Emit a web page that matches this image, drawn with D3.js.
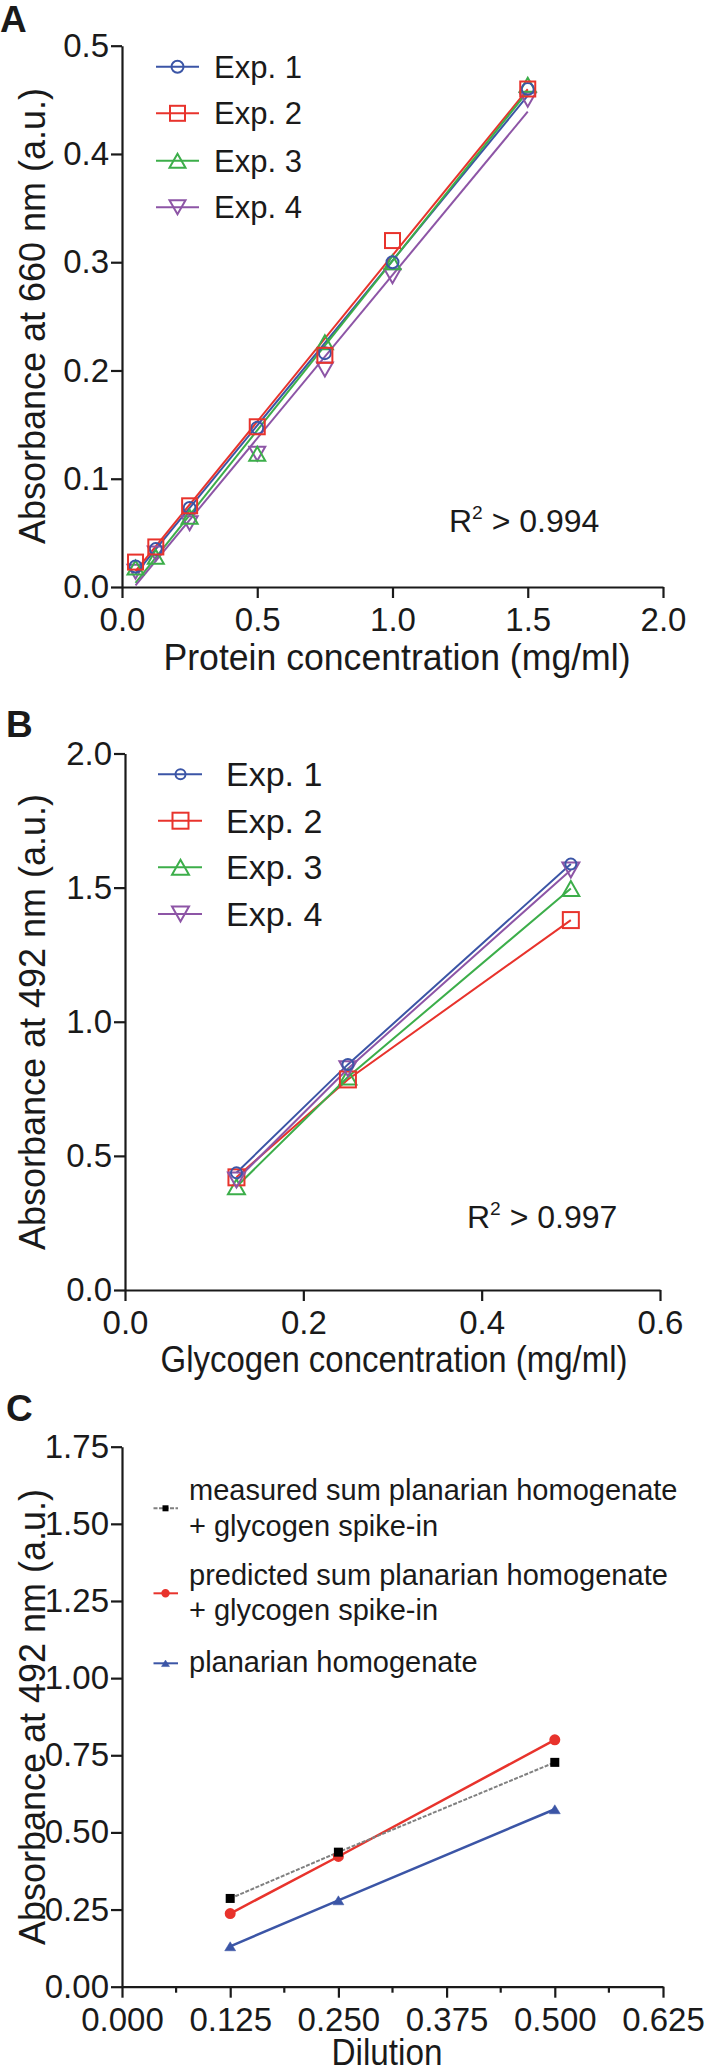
<!DOCTYPE html>
<html><head><meta charset="utf-8">
<script src="https://cdn.jsdelivr.net/npm/d3@7"></script>
<style>
body{margin:0;background:#fff}
svg text{font-family:"Liberation Sans",Arial,Helvetica,sans-serif;fill:#1a1a1a}
</style></head><body>
<svg id="c" width="708" height="2068"></svg>
<script>
// ---------- Panel A data ----------
const aConc = [0.05, 0.125, 0.25, 0.5, 0.75, 1.0, 1.5];
const aExp1 = [0.019, 0.035, 0.073, 0.147, 0.216, 0.300, 0.460];
const aExp2 = [0.023, 0.037, 0.075, 0.148, 0.214, 0.320, 0.460];
const aExp3 = [0.018, 0.028, 0.065, 0.123, 0.226, 0.300, 0.464];
const aExp4 = [0.014, 0.031, 0.059, 0.123, 0.201, 0.287, 0.450];
const aXTicks = [0, 0.5, 1.0, 1.5, 2.0];
const aYTicks = [0, 0.1, 0.2, 0.3, 0.4, 0.5];
// ---------- Panel B data ----------
const bConc = [0.125, 0.25, 0.5];
const bExp1 = [0.437, 0.841, 1.588];
const bExp2 = [0.420, 0.785, 1.379];
const bExp3 = [0.385, 0.794, 1.497];
const bExp4 = [0.410, 0.825, 1.566];
const bXTicks = [0, 0.2, 0.4, 0.6];
const bYTicks = [0, 0.5, 1.0, 1.5, 2.0];
// ---------- Panel C data ----------
const cDil = [0.125, 0.25, 0.5];
const cMeasured = [0.286, 0.436, 0.727];
const cPredicted = [0.237, 0.422, 0.800];
const cHomogenate = [0.131, 0.280, 0.575];
const cXTicks = [0, 0.125, 0.25, 0.375, 0.5, 0.625];
const cXMinor = [0.0625, 0.1875, 0.3125, 0.4375, 0.5625];
const cYTicks = [0, 0.25, 0.5, 0.75, 1.0, 1.25, 1.5, 1.75];

const expNames = ["Exp. 1", "Exp. 2", "Exp. 3", "Exp. 4"];
const expColors = ["#3b55a6", "#e8332c", "#3cae4a", "#8d55a6"];
const expShapes = ["circle", "square", "up", "down"];
const cNames = [["measured sum planarian homogenate", "+ glycogen spike-in"],
                ["predicted sum planarian homogenate", "+ glycogen spike-in"],
                ["planarian homogenate"]];
const cColors = ["#000000", "#e8332c", "#3b55a6"];

const svg = d3.select("#c");
const INK = "#1a1a1a";

function axes(x, y, xT, yT, fx, fy, fs) {
  const gx = svg.append("g").attr("transform", `translate(0,${y.range()[0]})`)
    .call(d3.axisBottom(x).tickValues(xT).tickFormat(fx).tickSize(11).tickSizeOuter(0).tickPadding(10));
  const gy = svg.append("g").attr("transform", `translate(${x.range()[0]},0)`)
    .call(d3.axisLeft(y).tickValues(yT).tickFormat(fy).tickSize(11).tickSizeOuter(0).tickPadding(2));
  [gx, gy].forEach(g => {
    g.attr("font-size", fs);
    g.selectAll("path,line").attr("stroke", INK).attr("stroke-width", 2.2);
    g.selectAll("text").attr("fill", INK);
  });
  return gx;
}

function marker(g, shape, cx, cy, s, color, filled) {
  const fill = filled ? color : "none";
  if (shape === "circle") {
    g.append("circle").attr("cx", cx).attr("cy", cy).attr("r", s.r)
      .attr("fill", fill).attr("stroke", color).attr("stroke-width", 2);
  } else if (shape === "square") {
    g.append("rect").attr("x", cx - s.q / 2).attr("y", cy - s.q / 2).attr("width", s.q).attr("height", s.q)
      .attr("fill", fill).attr("stroke", color).attr("stroke-width", filled ? 0 : 2);
  } else {
    const w = s.w, h = s.h, d = shape === "up" ? 1 : -1;
    const p = d3.path();
    p.moveTo(cx - w / 2, cy + d * h / 2); p.lineTo(cx + w / 2, cy + d * h / 2); p.lineTo(cx, cy - d * h / 2); p.closePath();
    g.append("path").attr("d", p.toString()).attr("fill", fill).attr("stroke", color)
      .attr("stroke-width", filled ? 0.5 : 2).attr("stroke-linejoin", "miter");
  }
}

function linfit(xs, ys) {
  const n = xs.length, mx = d3.mean(xs), my = d3.mean(ys);
  let sxy = 0, sxx = 0;
  for (let i = 0; i < n; i++) { sxy += (xs[i] - mx) * (ys[i] - my); sxx += (xs[i] - mx) ** 2; }
  const b = sxy / sxx; return { b, a: my - b * mx };
}

function rsq(x, y, txt, fs) {
  const t = svg.append("text").attr("x", x).attr("y", y).attr("font-size", fs);
  t.append("tspan").text("R");
  t.append("tspan").attr("font-size", fs * 0.6).attr("dy", -fs * 0.42).text("2");
  t.append("tspan").attr("dy", fs * 0.42).text(txt);
}

function ytitle(cx, cy, txt) {
  svg.append("text").attr("transform", `translate(${cx},${cy}) rotate(-90)`)
    .attr("text-anchor", "middle").attr("font-size", 36).attr("textLength", 456)
    .attr("lengthAdjust", "spacingAndGlyphs").text(txt);
}
function xtitle(cx, y, txt, len) {
  svg.append("text").attr("x", cx).attr("y", y).attr("text-anchor", "middle")
    .attr("font-size", 36).attr("textLength", len).attr("lengthAdjust", "spacingAndGlyphs").text(txt);
}
function panelLabel(x, y, t) {
  svg.append("text").attr("x", x).attr("y", y).attr("font-size", 37).attr("font-weight", "bold").text(t);
}

// ================= Panel A =================
const xA = d3.scaleLinear([0, 2], [122, 663]);
const yA = d3.scaleLinear([0, 0.5], [587, 45.7]);
axes(xA, yA, aXTicks, aYTicks, d3.format(".1f"), d3.format(".1f"), 33);
const aSeries = [aExp1, aExp2, aExp3, aExp4];
const sA = { r: 6, q: 15, w: 16, h: 14 };
const gA = svg.append("g");
aSeries.forEach((ys, k) => {
  const f = linfit(aConc, ys);
  const x0 = d3.min(aConc), x1 = d3.max(aConc);
  gA.append("line").attr("x1", xA(x0)).attr("y1", yA(f.a + f.b * x0))
    .attr("x2", xA(x1)).attr("y2", yA(f.a + f.b * x1))
    .attr("stroke", expColors[k]).attr("stroke-width", 2);
});
[3, 2, 0, 1].forEach(k => {
  aSeries[k].forEach((v, i) => marker(gA, expShapes[k], xA(aConc[i]), yA(v), sA, expColors[k], false));
});
// legend A
const legA = svg.append("g");
[66.7, 113.3, 160.7, 207.3].forEach((cy, k) => {
  legA.append("line").attr("x1", 156).attr("x2", 199).attr("y1", cy).attr("y2", cy)
    .attr("stroke", expColors[k]).attr("stroke-width", 2);
  marker(legA, expShapes[k], 177.5, cy, sA, expColors[k], false);
  legA.append("text").attr("x", 214).attr("y", cy + 11).attr("font-size", 31).text(expNames[k]);
});
rsq(449, 532, " > 0.994", 32);
xtitle(397, 670, "Protein concentration (mg/ml)", 467);
ytitle(45, 316, "Absorbance at 660 nm (a.u.)");
panelLabel(0, 32, "A");

// ================= Panel B =================
const xB = d3.scaleLinear([0, 0.6], [125, 660]);
const yB = d3.scaleLinear([0, 2], [1290, 753.5]);
axes(xB, yB, bXTicks, bYTicks, d3.format(".1f"), d3.format(".1f"), 33);
const bSeries = [bExp1, bExp2, bExp3, bExp4];
const sB = { r: 5.5, q: 16, w: 17, h: 15 };
const gB = svg.append("g");
const lineB = d3.line().x((d, i) => xB(bConc[i])).y(d => yB(d));
bSeries.forEach((ys, k) => {
  gB.append("path").attr("d", lineB(ys)).attr("fill", "none").attr("stroke", expColors[k]).attr("stroke-width", 2);
});
[2, 1, 3, 0].forEach(k => {
  bSeries[k].forEach((v, i) => marker(gB, expShapes[k], xB(bConc[i]), yB(v), sB, expColors[k], false));
});
const legB = svg.append("g");
[774.3, 820.7, 867.3, 914].forEach((cy, k) => {
  legB.append("line").attr("x1", 158).attr("x2", 202).attr("y1", cy).attr("y2", cy)
    .attr("stroke", expColors[k]).attr("stroke-width", 2);
  marker(legB, expShapes[k], 180.5, cy, { r: 5, q: 16, w: 17, h: 15 }, expColors[k], false);
  legB.append("text").attr("x", 226).attr("y", cy + 12).attr("font-size", 34).text(expNames[k]);
});
rsq(467, 1228, " > 0.997", 32);
xtitle(394, 1372, "Glycogen concentration (mg/ml)", 467);
ytitle(45, 1022, "Absorbance at 492 nm (a.u.)");
panelLabel(6, 737, "B");

// ================= Panel C =================
const xC = d3.scaleLinear([0, 0.625], [122, 663]);
const yC = d3.scaleLinear([0, 1.75], [1986.7, 1446.7]);
const gxC = axes(xC, yC, cXTicks, cYTicks, d3.format(".3f"), d3.format(".2f"), 33);
gxC.selectAll("line.minor").data(cXMinor).enter().append("line")
  .attr("x1", d => xC(d)).attr("x2", d => xC(d)).attr("y1", 0).attr("y2", 6)
  .attr("stroke", INK).attr("stroke-width", 2.2);
const gC = svg.append("g");
const lineC = d3.line().x((d, i) => xC(cDil[i])).y(d => yC(d));
gC.append("path").attr("d", lineC(cHomogenate)).attr("fill", "none").attr("stroke", cColors[2]).attr("stroke-width", 2.5);
gC.append("path").attr("d", lineC(cPredicted)).attr("fill", "none").attr("stroke", cColors[1]).attr("stroke-width", 2.5);
gC.append("path").attr("d", lineC(cMeasured)).attr("fill", "none").attr("stroke", "#808080")
  .attr("stroke-width", 2).attr("stroke-dasharray", "4,1.5");
const sC = { r: 4.5, q: 9, w: 11, h: 9 };
cHomogenate.forEach((v, i) => marker(gC, "up", xC(cDil[i]), yC(v), sC, cColors[2], true));
cPredicted.forEach((v, i) => marker(gC, "circle", xC(cDil[i]), yC(v), sC, cColors[1], true));
cMeasured.forEach((v, i) => marker(gC, "square", xC(cDil[i]), yC(v), sC, cColors[0], true));
// legend C
const legC = svg.append("g");
const legCy = [1508.3, 1593.3, 1663.3];
const legCbase = [[1500, 1536], [1585, 1620], [1671.7]];
const sCl = { r: 3.2, q: 6, w: 8, h: 6.5 };
legCy.forEach((cy, k) => {
  const ln = legC.append("line").attr("x1", 153.5).attr("x2", 178).attr("y1", cy).attr("y2", cy)
    .attr("stroke", k === 0 ? "#808080" : cColors[k]).attr("stroke-width", 2);
  if (k === 0) ln.attr("stroke-dasharray", "4,1.5");
  marker(legC, ["square", "circle", "up"][k], 165.5, cy, sCl, cColors[k], true);
  cNames[k].forEach((t, j) => {
    legC.append("text").attr("x", 189).attr("y", legCbase[k][j]).attr("font-size", 29).text(t);
  });
});
xtitle(387, 2065, "Dilution", 111);
ytitle(45, 1717, "Absorbance at 492 nm (a.u.)");
panelLabel(6, 1421, "C");
</script>
</body></html>
